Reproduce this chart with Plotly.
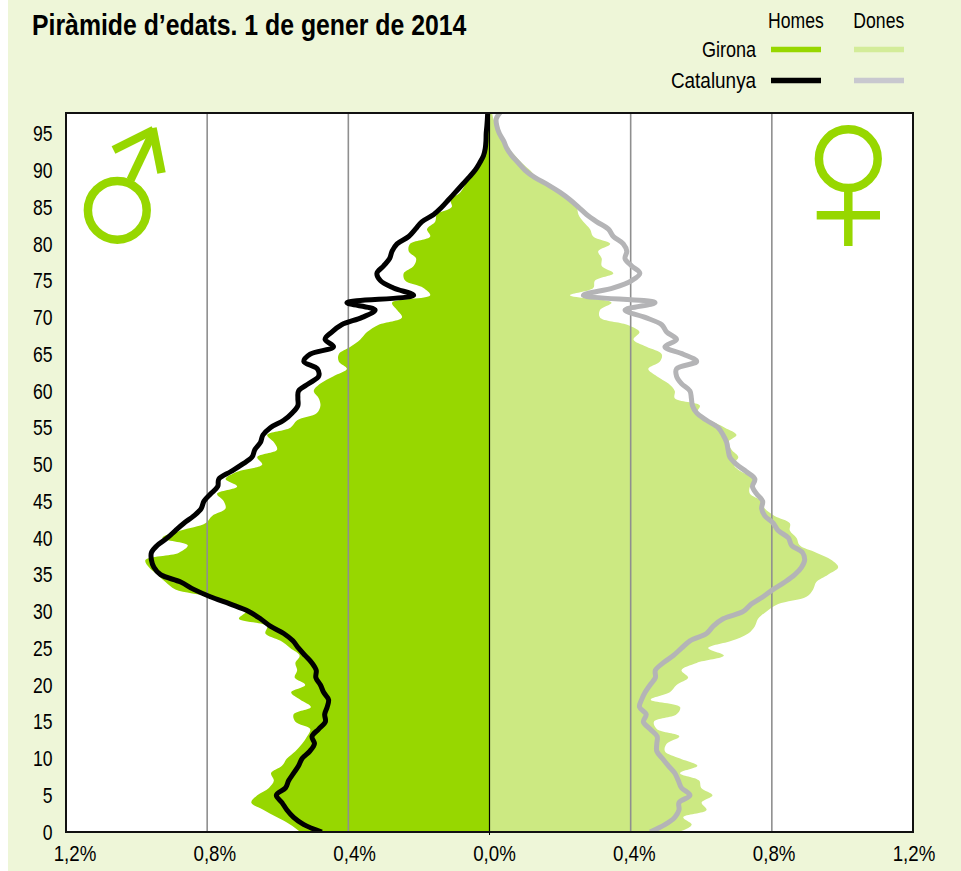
import plotly.graph_objects as go

TITLE = "Piràmide d’edats. 1 de gener de 2014"
ages = list(range(99))

girona_homes = [
 .536,.564,.602,.640,.675,.658,.625,.611,.619,.588,
 .574,.550,.531,.517,.508,.550,.555,.506,.536,.562,
 .522,.552,.545,.550,.538,.564,.592,.635,.630,.710,
 .690,.735,.790,.890,.918,.941,.965,.975,.880,.855,
 .927,.875,.805,.786,.748,.753,.772,.715,.748,.715,
 .644,.658,.602,.611,.630,.564,.545,.489,.479,.484,
 .498,.479,.442,.404,.427,.427,.394,.366,.347,.314,
 .248,.262,.276,.168,.187,.239,.243,.215,.208,.229,
 .225,.168,.177,.154,.149,.107,.110,.083,.069,.057,
 .045,.031,.022,.012,.008,.006,.004,.002,.001]

catalunya_homes = [
 .475,.526,.555,.574,.588,.604,.578,.569,.555,.541,
 .531,.509,.496,.503,.484,.465,.467,.460,.456,.470,
 .479,.492,.491,.503,.522,.541,.557,.583,.621,.649,
 .682,.734,.791,.838,.875,.932,.951,.958,.958,.941,
 .913,.890,.866,.838,.817,.809,.790,.770,.767,.734,
 .701,.673,.665,.649,.642,.621,.583,.559,.543,.543,
 .541,.512,.484,.488,.526,.508,.442,.466,.447,.419,
 .361,.324,.404,.215,.272,.309,.319,.300,.283,.276,
 .262,.229,.210,.192,.158,.135,.116,.097,.078,.059,
 .041,.028,.017,.012,.010,.0094,.0075,.006,.005]

girona_dones = [
 .535,.573,.549,.615,.601,.632,.600,.594,.540,.589,
 .540,.497,.502,.538,.474,.466,.530,.540,.457,.511,
 .530,.563,.544,.587,.664,.620,.686,.733,.752,.761,
 .785,.818,.898,.917,.926,.959,.988,.969,.926,.879,
 .870,.851,.851,.808,.780,.771,.738,.738,.757,.714,
 .692,.705,.686,.676,.700,.667,.625,.587,.596,.525,
 .525,.507,.474,.450,.483,.488,.445,.408,.425,.390,
 .313,.313,.346,.228,.294,.299,.351,.318,.318,.308,
 .342,.294,.285,.266,.252,.247,.228,.200,.167,.134,
 .115,.092,.073,.054,.042,.030,.021,.011,.007]

catalunya_dones = [
 .455,.497,.525,.537,.537,.568,.544,.535,.525,.507,
 .490,.474,.474,.475,.455,.436,.444,.425,.431,.441,
 .455,.470,.470,.492,.521,.544,.568,.615,.634,.662,
 .719,.742,.775,.804,.837,.865,.884,.893,.887,.856,
 .847,.818,.804,.780,.771,.774,.757,.745,.752,.728,
 .700,.681,.676,.672,.662,.648,.615,.587,.575,.572,
 .568,.544,.530,.530,.587,.549,.497,.530,.502,.488,
 .441,.384,.469,.266,.351,.403,.426,.403,.384,.389,
 .379,.351,.337,.304,.275,.252,.228,.200,.167,.129,
 .101,.082,.063,.049,.040,.028,.021,.019,.032]

x_ticks = [-1.2, -0.8, -0.4, 0, 0.4, 0.8, 1.2]
x_labels = ["1,2%", "0,8%", "0,4%", "0,0%", "0,4%", "0,8%", "1,2%"]
grid_vals = [-0.8, -0.4, 0.4, 0.8]
y_top = 97.8

W, H = 961, 871
L, R, T, B = 66, 913, 113, 832
GREEN, LIGHT, BG, GREY, GRID = "#97D700", "#CCE982", "#EEF6D8", "#B4B4B6", "#8F8F8F"
FONT = "Liberation Sans"
SMOOTH = 1.0

def px(v): return (v - L) / (R + 1 - L)      # paper coords span 66..914
def py(v): return (B - v) / (B - T)

fig = go.Figure()
fig.add_trace(go.Scatter(x=[-v for v in girona_homes], y=ages, mode="lines", fill="tozerox",
    fillcolor=GREEN, line=dict(width=0, shape="spline", smoothing=SMOOTH, color=GREEN), hoverinfo="skip", cliponaxis=False))
fig.add_trace(go.Scatter(x=girona_dones, y=ages, mode="lines", fill="tozerox",
    fillcolor=LIGHT, line=dict(width=0, shape="spline", smoothing=SMOOTH, color=LIGHT), hoverinfo="skip", cliponaxis=False))
for g in grid_vals:
    fig.add_trace(go.Scatter(x=[g, g], y=[0, y_top], mode="lines", line=dict(color=GRID, width=1.6), hoverinfo="skip"))
fig.add_trace(go.Scatter(x=[0, 0], y=[0, y_top], mode="lines", line=dict(color="#000000", width=1.2), hoverinfo="skip"))
fig.add_trace(go.Scatter(x=catalunya_dones, y=ages, mode="lines",
    line=dict(color=GREY, width=5, shape="spline", smoothing=SMOOTH), hoverinfo="skip", cliponaxis=False))
fig.add_trace(go.Scatter(x=[-v for v in catalunya_homes], y=ages, mode="lines",
    line=dict(color="#000000", width=5, shape="spline", smoothing=SMOOTH), hoverinfo="skip", cliponaxis=False))
# carries the x tick labels, which sit slightly off the gridlines in the original
fig.add_trace(go.Scatter(x=[x_ticks[0], x_ticks[-1]], y=[0, 0], xaxis="x2", yaxis="y", mode="none", hoverinfo="skip"))

shapes = []
def line(x0, y0, x1, y1, color=GREEN, w=8.5):
    shapes.append(dict(type="line", xref="paper", yref="paper", x0=px(x0), y0=py(y0), x1=px(x1), y1=py(y1),
                       line=dict(color=color, width=w), layer="above"))
def ring(cx, cy, r, color=GREEN, w=8.5):
    shapes.append(dict(type="circle", xref="paper", yref="paper", x0=px(cx-r), x1=px(cx+r), y0=py(cy+r), y1=py(cy-r),
                       line=dict(color=color, width=w), layer="above"))
# white plot background (below everything) and white strip at the page's left edge
shapes.append(dict(type="rect", xref="paper", yref="paper", x0=px(L), x1=px(R), y0=py(B), y1=py(T),
                   fillcolor="#FFFFFF", line=dict(width=0), layer="below"))
shapes.append(dict(type="rect", xref="paper", yref="paper", x0=px(0), x1=px(8), y0=py(H), y1=py(0),
                   fillcolor="#FFFFFF", line=dict(width=0), layer="below"))
# plot frame, centred on the plot edges
shapes.append(dict(type="rect", xref="paper", yref="paper", x0=px(L), x1=px(R), y0=py(B), y1=py(T),
                   line=dict(color="#111111", width=2), layer="above"))
# male / female symbols
ring(117.3, 210.3, 29.4)
line(130.5, 180, 153.5, 131.5)
line(113.5, 150, 153.5, 130)
line(161.5, 173, 152.5, 128)
ring(848.3, 158.7, 29.4)
line(848.3, 188, 848.3, 246)
line(816.7, 215.3, 880, 215.3)
# legend swatches
line(771, 49.5, 821, 49.5, GREEN, 5.5)
line(854, 49.5, 904, 49.5, "#D3EC99", 5.5)
line(771, 80.5, 821, 80.5, "#000000", 5.5)
line(854, 80.5, 904, 80.5, "#C8C8CF", 5.5)
# tick under the zero line
shapes.append(dict(type="line", xref="x", yref="paper", x0=0, x1=0, y0=py(B), y1=py(B+3),
                   line=dict(color="#000000", width=1)))

def note(x, y, text, size=22):
    return dict(xref="paper", yref="paper", x=px(x), y=py(y), text=text, showarrow=False,
                xanchor="center", yanchor="middle", font=dict(family=FONT, size=size, color="#000000"))
annots = [note(796, 21, "Homes"), note(879, 21, "Dones"),
          note(729, 50, "Girona"), note(713.5, 80, "Catalunya")]

fig.update_layout(
    width=W, height=H, showlegend=False,
    margin=dict(l=L, r=W-(R+1), t=T, b=H-B, pad=0),
    paper_bgcolor=BG, plot_bgcolor="rgba(0,0,0,0)",
    title=dict(text=TITLE, xref="container", yref="container", x=32/W, y=1-24.5/H,
               xanchor="left", yanchor="middle", font=dict(family=FONT, size=30, weight=700, color="#000000")),
    font=dict(family=FONT, size=22, color="#000000"),
    shapes=shapes, annotations=annots,
    xaxis=dict(domain=[0, (R-L)/(R+1-L)], range=[-1.2, 1.2], showgrid=False, zeroline=False, showticklabels=False,
               ticks="", showline=False, fixedrange=True, automargin=False),
    xaxis2=dict(domain=[(75-L)/(R+1-L), 1], anchor="y", range=[-1.2, 1.2], tickmode="array", tickvals=x_ticks,
                ticktext=x_labels, showgrid=False, zeroline=False, showline=False, ticks="outside", ticklen=2,
                tickcolor="rgba(0,0,0,0)", fixedrange=True, automargin=False, tickfont=dict(family=FONT, size=22)),
    yaxis=dict(range=[0, y_top], tick0=0, dtick=5, showgrid=False, zeroline=False, showline=False,
               ticks="outside", ticklen=8, tickcolor="rgba(0,0,0,0)", fixedrange=True,
               automargin=False, tickfont=dict(family=FONT, size=22)),
)
# the reference type is a condensed face: squeeze the real text horizontally
post = """
document.body.style.margin='0';
document.querySelectorAll('svg text').forEach(function(t){
  var s = t.textContent, f = 0.80;
  if (t.classList.contains('gtitle')) f = 0.827;
  else if (s.indexOf('%') >= 0) f = 0.85;
  else if (s === 'Catalunya') f = 0.86;
  else if (s === 'Girona') f = 0.82;
  t.setAttribute('lengthAdjust','spacingAndGlyphs');
  t.setAttribute('textLength', t.getComputedTextLength()*f);
});
"""
fig.write_html("out.html", post_script=post, config={"displayModeBar": False})
